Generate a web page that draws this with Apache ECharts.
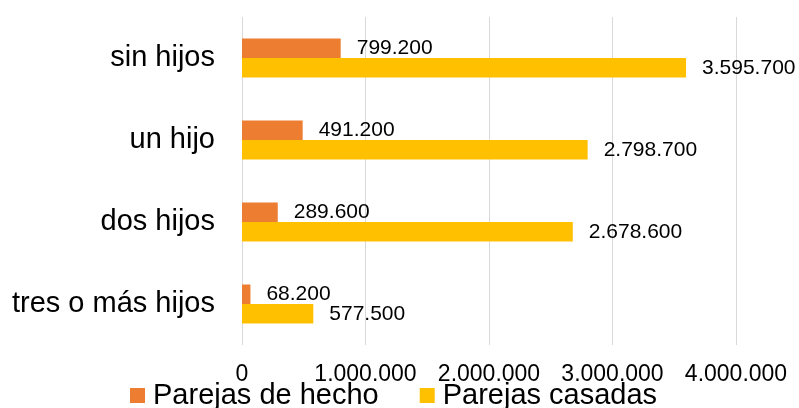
<!DOCTYPE html>
<html>
<head>
<meta charset="utf-8">
<script src="https://cdn.jsdelivr.net/npm/echarts@6/dist/echarts.min.js"></script>
<style>
  html, body { margin: 0; padding: 0; background: #fff; }
  #chart1 { width: 799px; height: 408px; }
</style>
</head>
<body>
<div id="chart1"></div>
<script>
var categorias = ['sin hijos', 'un hijo', 'dos hijos', 'tres o más hijos'];
var parejasHecho = [799200, 491200, 289600, 68200];
var parejasCasadas = [3595700, 2798700, 2678600, 577500];
var nombres = ['Parejas de hecho', 'Parejas casadas'];

function puntos(v) {
	return String(v).replace(/\B(?=(\d{3})+(?!\d))/g, '.');
}

initBar('chart1');

function initBar(elem) {
	var myChart = echarts.init(document.getElementById(elem));
	var fuente = 'Liberation Sans, Arial, sans-serif';
	var etiqueta = {
		show: true,
		position: 'right',
		distance: 16,
		color: '#000',
		fontFamily: fuente,
		fontSize: 21,
		formatter: function (p) { return puntos(p.value); }
	};
	var option = {
		animation: false,
		grid: { left: 242, right: 63, top: 17, bottom: 63 },
		legend: {
			data: nombres,
			left: 130,
			top: 381,
			padding: 0,
			itemWidth: 15,
			itemHeight: 15,
			itemGap: 41,
			icon: 'rect',
			textStyle: {
				color: '#000',
				fontFamily: fuente,
				fontSize: 29,
				lineHeight: 29,
				padding: [0, 0, 0, 3]
			}
		},
		xAxis: {
			type: 'value',
			min: 0,
			max: 4000000,
			interval: 1000000,
			axisLine: { show: false },
			axisTick: { show: false },
			splitLine: { lineStyle: { color: '#d9d9d9', width: 1 } },
			axisLabel: {
				color: '#000',
				fontFamily: fuente,
				fontSize: 23,
				margin: 18,
				formatter: function (v) { return puntos(v); }
			}
		},
		yAxis: {
			type: 'category',
			inverse: true,
			data: categorias,
			axisLine: { show: false },
			axisTick: { show: false },
			axisLabel: {
				color: '#000',
				fontFamily: fuente,
				fontSize: 29,
				margin: 27
			}
		},
		series: [
			{
				name: nombres[0],
				type: 'bar',
				data: parejasHecho,
				barWidth: 19.5,
				barGap: '0%',
				itemStyle: { color: '#ed7d31' },
				label: etiqueta
			},
			{
				name: nombres[1],
				type: 'bar',
				data: parejasCasadas,
				barWidth: 19.5,
				itemStyle: { color: '#ffc000' },
				label: etiqueta
			}
		]
	};
	myChart.setOption(option);
}
</script>
</body>
</html>
